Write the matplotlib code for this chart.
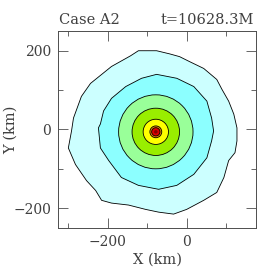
import numpy as np
import matplotlib
matplotlib.use("Agg")
import matplotlib.pyplot as plt
from matplotlib.patches import Circle
from matplotlib.ticker import MultipleLocator

plt.rcParams['font.family'] = ['DejaVu Serif']
plt.rcParams['text.color'] = '0.25'
plt.rcParams['xtick.labelcolor'] = '0.25'
plt.rcParams['ytick.labelcolor'] = '0.25'
plt.rcParams['axes.labelcolor'] = '0.25'

# outermost contour outline (km)
outer_x = [127, 119, 106, 89, 76, 43, 8, -18, -43, -76, -122, -142, -190, -243,
           -266, -286, -291, -299, -281, -253, -230, -215, -190, -147, -104, -71,
           -33, 0, 43, 76, 94, 106, 122, 127]
outer_y = [4, 39, 72, 102, 127, 155, 172, 185, 192, 200, 200, 187, 160, 117,
           84, 29, -4, -47, -89, -130, -155, -180, -187, -192, -203, -210,
           -215, -203, -180, -160, -122, -79, -59, -29]

# second contour outline (km)
second_x = [68, 63, 51, 18, -25, -76, -114, -154, -190, -210, -218, -223, -218,
            -197, -165, -122, -71, -25, 18, 51, 63]
second_y = [-4, 29, 72, 109, 130, 140, 130, 109, 79, 47, 14, 4, -47,
            -79, -122, -142, -152, -142, -114, -72, -29]

# inner, nearly circular contours
core_x, core_y = -78, -6
inner_r = [94, 60, 32, 15, 10.5, 4.5]

outer_color = '#ccffff'
second_color = '#8cffff'
inner_colors = ['#99ff99', '#99ee00', '#ffff00', '#ee8800', '#dd0000', '#880000']

fig = plt.figure(figsize=(2.7, 2.7), dpi=100)
ax = fig.add_axes([0.215, 0.156, 0.733, 0.729])

ax.fill(outer_x, outer_y, facecolor=outer_color, edgecolor='k', lw=0.6, zorder=1)
ax.fill(second_x, second_y, facecolor=second_color, edgecolor='k', lw=0.6, zorder=2)
for i, (r, c) in enumerate(zip(inner_r, inner_colors)):
    lw = 0.6 if i < 5 else 0
    ax.add_patch(Circle((core_x, core_y), r, facecolor=c, edgecolor='k',
                        lw=lw, zorder=3 + i))

ax.set_xlim(-325, 175)
ax.set_ylim(-250, 250)
ax.xaxis.set_major_locator(MultipleLocator(200))
ax.xaxis.set_minor_locator(MultipleLocator(100))
ax.yaxis.set_major_locator(MultipleLocator(200))
ax.yaxis.set_minor_locator(MultipleLocator(100))
ax.tick_params(which='both', direction='in', top=True, right=True,
               width=0.6, color='0.3', labelsize=10, pad=5)
ax.tick_params(which='major', length=7)
ax.tick_params(which='minor', length=3.5)
for s in ax.spines.values():
    s.set_linewidth(0.7)
    s.set_color('0.3')

ax.set_xlabel('X (km)', fontsize=10.5)
ax.set_ylabel('Y (km)', fontsize=10.5, va='center')
ax.xaxis.set_label_coords(0.5, -0.125)
ax.yaxis.set_label_coords(-0.24, 0.5)
ax.text(0.005, 1.02, 'Case A2', transform=ax.transAxes, fontsize=10.5,
        ha='left', va='bottom')
ax.text(0.99, 1.02, 't=10628.3M', transform=ax.transAxes, fontsize=10.5,
        ha='right', va='bottom')

fig.savefig('out.png', dpi=100)
